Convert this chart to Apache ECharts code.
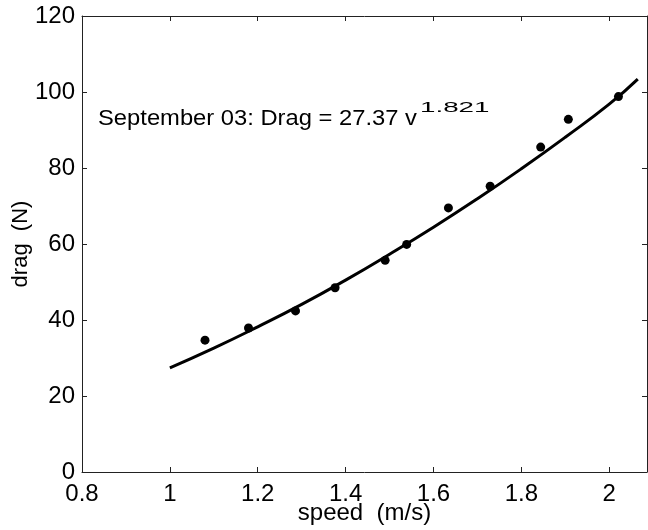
<!DOCTYPE html>
<html>
<head>
<meta charset="utf-8">
<script src="https://cdn.jsdelivr.net/npm/echarts@6/dist/echarts.min.js"></script>
<style>
html,body{margin:0;padding:0;background:#fff;}
#chart{width:648px;height:530px;}
</style>
</head>
<body>
<div id="chart"></div>
<script>
// Measured data points
var speed = [1.080, 1.179, 1.286, 1.376, 1.490, 1.539, 1.634, 1.729, 1.844, 1.907, 2.021];
var drag  = [34.7, 37.9, 42.4, 48.5, 55.7, 59.9, 69.5, 75.2, 85.5, 92.8, 98.8];
// Fitted curve
var fitSpeed = [1.0, 1.1, 1.2, 1.3, 1.4, 1.5, 1.6, 1.7, 1.8, 1.9, 2.0, 2.065];
var fitDrag  = [27.4, 32.6, 38.2, 44.1, 50.5, 57.3, 64.4, 71.9, 79.8, 88.1, 96.8, 103.4];
// Axis ticks
var xTicks = [0.8, 1, 1.2, 1.4, 1.6, 1.8, 2];
var yTicks = [0, 20, 40, 60, 80, 100, 120];
var annotation = 'September 03: Drag = 27.37 v';
var annotationExp = '1.821';

var FONT = 'Liberation Sans, Arial, Helvetica, sans-serif';
var AX = '#222';

function pairs(a, b) { return a.map(function (v, i) { return [v, b[i]]; }); }
function isTick(list, v) { return list.some(function (t) { return Math.abs(t - v) < 1e-6; }); }

var chart = echarts.init(document.getElementById('chart'), null, {renderer: 'canvas'});
var xCommon = {
  type: 'value', min: 0.8, max: 2.086, interval: 0.2,
  axisLine: {show: true, onZero: false, lineStyle: {color: AX, width: 1}},
  axisTick: {show: true, inside: true, length: 5, lineStyle: {color: AX}},
  splitLine: {show: false}
};
var yCommon = {
  type: 'value', min: 0, max: 120, interval: 20,
  axisLine: {show: true, onZero: false, lineStyle: {color: AX, width: 1}},
  axisTick: {show: true, inside: true, length: 5, lineStyle: {color: AX}},
  splitLine: {show: false}
};

chart.setOption({
  animation: false,
  backgroundColor: '#fff',
  grid: {left: 82, right: 1, top: 16, bottom: 58, containLabel: false, outerBoundsMode: 'none'},
  xAxis: [
    Object.assign({}, xCommon, {
      position: 'bottom',
      name: 'speed  (m/s)', nameLocation: 'middle', nameGap: 29, nameMoveOverlap: false,
      nameTextStyle: {color: '#000', fontSize: 24, fontFamily: FONT},
      axisLabel: {
        show: true, color: '#000', fontSize: 24, fontFamily: FONT, margin: 10,
        showMaxLabel: false,
        formatter: function (v) { return isTick(xTicks, v) ? String(+v.toFixed(1)) : ''; }
      }
    }),
    Object.assign({}, xCommon, {position: 'top', axisLabel: {show: false}})
  ],
  yAxis: [
    Object.assign({}, yCommon, {
      position: 'left',
      name: 'drag  (N)', nameLocation: 'middle', nameGap: 50, nameMoveOverlap: false,
      nameTextStyle: {color: '#000', fontSize: 22, fontFamily: FONT},
      axisLabel: {
        show: true, color: '#000', fontSize: 24, fontFamily: FONT, margin: 7,
        formatter: function (v) { return isTick(yTicks, v) ? String(v) : ''; }
      }
    }),
    Object.assign({}, yCommon, {position: 'right', axisLabel: {show: false}})
  ],
  series: [
    {
      type: 'line', data: pairs(fitSpeed, fitDrag), smooth: true, showSymbol: false,
      lineStyle: {color: '#000', width: 3}, z: 2
    },
    {
      type: 'scatter', data: pairs(speed, drag), symbol: 'circle', symbolSize: 9,
      itemStyle: {color: '#000', opacity: 1}, z: 3
    }
  ],
  graphic: [
    {
      type: 'text', x: 98, y: 119, scaleX: 1.08, originX: 0,
      style: {
        text: annotation, fill: '#000',
        font: '22px ' + FONT, verticalAlign: 'middle', align: 'left'
      }
    },
    {
      type: 'text', x: 420, y: 108, scaleX: 1.85, originX: 0,
      style: {
        text: annotationExp, fill: '#000',
        font: '15px ' + FONT, verticalAlign: 'middle', align: 'left'
      }
    }
  ]
});
</script>
</body>
</html>
